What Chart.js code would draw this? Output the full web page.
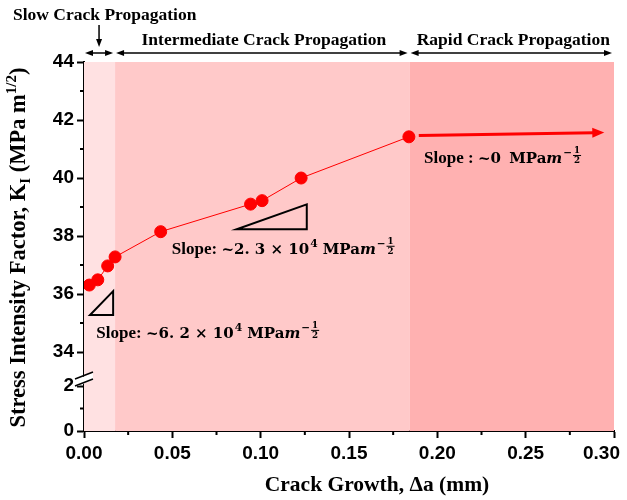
<!DOCTYPE html>
<html>
<head>
<meta charset="utf-8">
<script src="https://cdn.jsdelivr.net/npm/chart.js@4.4.1/dist/chart.umd.min.js"></script>
<style>
  html, body { margin: 0; padding: 0; background: #fff; }
  #wrap { width: 627px; height: 500px; position: relative; }
</style>
</head>
<body>
<div id="wrap"><canvas id="chart"></canvas></div>
<script>
// measured points
const crackGrowth = [0.003, 0.0078, 0.0134, 0.0176, 0.0434, 0.0943, 0.1008, 0.1229, 0.1839];
const stressK = [36.31, 36.49, 36.97, 37.28, 38.15, 39.1, 39.22, 40.0, 41.42];

// propagation regions
const regionEdges = [0, 0.0176, 0.1843, 0.30];
const regionColors = ["#ffe1e2", "#ffc9c9", "#ffb1b1"];
const regionNames = ["Slow Crack Propagation", "Intermediate Crack Propagation", "Rapid Crack Propagation"];

// ticks
const xTicks = [0, 0.05, 0.10, 0.15, 0.20, 0.25, 0.30];
const xMinor = [0.025, 0.075, 0.125, 0.175, 0.225, 0.275];
const yTopTicks = [34, 36, 38, 40, 42, 44];
const yTopMinor = [35, 37, 39, 41, 43];
const yLowTicks = [0, 2];
const yLowMinor = [1];

// slope triangles [x0, x1, yBase, yTop] and labels [x, y, prefix, mantissa]
const slopeTris = [[0.0034, 0.0165, 35.28, 36.1], [0.0864, 0.1261, 38.23, 39.09]];
const slopeLabels = [[0.007, 34.48, "Slope: ", "~6. 2 \u00d7 10"], [0.0497, 37.38, "Slope: ", "~2. 3 \u00d7 10"]];
const flatArrow = [0.1895, 41.47, 0.2945, 41.57];
const flatLabel = [0.1925, 40.51];

const SERIF = "'Liberation Serif', 'Times New Roman', serif";
const MATH = "'DejaVu Serif', serif";
const SANS = "'Liberation Sans', Arial, sans-serif";

function arrowHead(ctx, x, y, dir, len, half) {
  ctx.beginPath();
  ctx.moveTo(x, y);
  ctx.lineTo(x - dir * len, y - half);
  ctx.lineTo(x - dir * len, y + half);
  ctx.closePath();
  ctx.fill();
}

// draws "MPa m^-1/2" starting at x
function unitText(ctx, x, y, size) {
  ctx.font = `bold ${size}px ${MATH}`;
  ctx.fillText("MPa", x, y);
  x += ctx.measureText("MPa").width;
  ctx.font = `italic bold ${size}px ${MATH}`;
  ctx.fillText("m", x, y);
  x += ctx.measureText("m").width + 1;
  ctx.font = `bold ${size * 0.7}px ${MATH}`;
  ctx.fillText("\u2212", x, y - size * 0.45);
  x += ctx.measureText("\u2212").width + 2;
  ctx.font = `bold ${size * 0.58}px ${MATH}`;
  const w = ctx.measureText("2").width;
  ctx.textAlign = "center";
  ctx.fillText("1", x + w / 2, y - size * 0.7);
  ctx.fillText("2", x + w / 2, y - size * 0.02);
  ctx.textAlign = "left";
  ctx.fillRect(x - 1, y - size * 0.55, w + 2, 1);
}

const decorPlugin = {
  id: "decor",
  beforeDatasetsDraw(chart) {
    const { ctx, chartArea: a, scales } = chart;
    const xs = scales.x;
    ctx.save();
    for (let i = 0; i < regionColors.length; i++) {
      const l = xs.getPixelForValue(regionEdges[i]);
      const r = xs.getPixelForValue(regionEdges[i + 1]);
      ctx.fillStyle = regionColors[i];
      ctx.fillRect(l, a.top, r - l, a.bottom - a.top);
    }
    ctx.restore();
  },
  afterDraw(chart) {
    const { ctx, chartArea: a, scales, width } = chart;
    const xs = scales.x, yt = scales.yTop, yl = scales.yLow;
    ctx.save();
    ctx.fillStyle = "#000";
    ctx.strokeStyle = "#000";

    // minor ticks
    ctx.lineWidth = 2;
    ctx.beginPath();
    xMinor.forEach(v => { const p = xs.getPixelForValue(v); ctx.moveTo(p, a.bottom); ctx.lineTo(p, a.bottom + 4); });
    yTopMinor.forEach(v => { const p = yt.getPixelForValue(v); ctx.moveTo(a.left, p); ctx.lineTo(a.left - 4, p); });
    yLowMinor.forEach(v => { const p = yl.getPixelForValue(v); ctx.moveTo(a.left, p); ctx.lineTo(a.left - 4, p); });
    ctx.stroke();

    // x tick labels, kept inside the canvas
    ctx.font = `bold 19px ${SANS}`;
    ctx.textAlign = "center";
    ctx.textBaseline = "middle";
    xTicks.forEach(v => {
      const t = v.toFixed(2);
      const half = ctx.measureText(t).width / 2;
      const p = Math.min(xs.getPixelForValue(v), width - 7 - half);
      ctx.fillText(t, p, a.bottom + 23);
    });

    // axis break
    const by = yl.top;
    ctx.fillStyle = "#fff";
    ctx.beginPath();
    ctx.moveTo(a.left - 9, by + 3); ctx.lineTo(a.left + 9, by - 4);
    ctx.lineTo(a.left + 9, by + 3); ctx.lineTo(a.left - 9, by + 10);
    ctx.closePath();
    ctx.fill();
    ctx.fillStyle = "#000";
    ctx.lineWidth = 1.5;
    ctx.beginPath();
    ctx.moveTo(a.left - 9, by + 2); ctx.lineTo(a.left + 9, by - 5);
    ctx.moveTo(a.left - 9, by + 9); ctx.lineTo(a.left + 9, by + 2);
    ctx.stroke();

    // region labels with double arrows
    ctx.lineWidth = 1.5;
    const ay = a.top - 9;
    ctx.font = `bold 17.5px ${SERIF}`;
    ctx.textBaseline = "middle";
    for (let i = 0; i < regionNames.length; i++) {
      const l = xs.getPixelForValue(regionEdges[i]) + 1;
      const r = xs.getPixelForValue(regionEdges[i + 1]) - 2;
      ctx.beginPath();
      ctx.moveTo(l + 3, ay); ctx.lineTo(r - 3, ay);
      ctx.stroke();
      arrowHead(ctx, l, ay, -1, 8, 3);
      arrowHead(ctx, r, ay, 1, 8, 3);
      if (i === 0) {
        ctx.textAlign = "left";
        ctx.fillText(regionNames[i], 13, 15);
        const mx = (l + r) / 2;
        ctx.beginPath();
        ctx.moveTo(mx, 25); ctx.lineTo(mx, 40);
        ctx.stroke();
        ctx.beginPath();
        ctx.moveTo(mx, 47); ctx.lineTo(mx - 3, 39); ctx.lineTo(mx + 3, 39);
        ctx.closePath(); ctx.fill();
      } else {
        ctx.textAlign = "center";
        ctx.fillText(regionNames[i], (l + r) / 2 + 2, 40);
      }
    }

    // slope triangles
    ctx.lineWidth = 2;
    slopeTris.forEach(t => {
      const x0 = xs.getPixelForValue(t[0]), x1 = xs.getPixelForValue(t[1]);
      const y0 = yt.getPixelForValue(t[2]), y1 = yt.getPixelForValue(t[3]);
      ctx.beginPath();
      ctx.moveTo(x0, y0); ctx.lineTo(x1, y0); ctx.lineTo(x1, y1); ctx.closePath();
      ctx.stroke();
    });

    // slope labels
    ctx.textBaseline = "alphabetic";
    ctx.textAlign = "left";
    const fs = 17;
    const ms = 15;
    slopeLabels.forEach(s => {
      let x = xs.getPixelForValue(s[0]);
      const y = yt.getPixelForValue(s[1]);
      ctx.font = `bold ${fs}px ${SERIF}`;
      ctx.fillText(s[2], x, y);
      x += ctx.measureText(s[2]).width;
      ctx.font = `bold ${ms}px ${MATH}`;
      ctx.fillText(s[3], x, y);
      x += ctx.measureText(s[3]).width;
      ctx.font = `bold ${ms * 0.72}px ${MATH}`;
      ctx.fillText("4", x + 1, y - ms * 0.5);
      x += ctx.measureText("4").width + 6;
      unitText(ctx, x, y, ms);
    });

    // flat arrow (rapid stage)
    ctx.strokeStyle = "#ff0000";
    ctx.fillStyle = "#ff0000";
    ctx.lineWidth = 3;
    const fx0 = xs.getPixelForValue(flatArrow[0]), fy0 = yt.getPixelForValue(flatArrow[1]);
    const fx1 = xs.getPixelForValue(flatArrow[2]), fy1 = yt.getPixelForValue(flatArrow[3]);
    const ang = Math.atan2(fy1 - fy0, fx1 - fx0);
    ctx.beginPath();
    ctx.moveTo(fx0, fy0);
    ctx.lineTo(fx1 - 10 * Math.cos(ang), fy1 - 10 * Math.sin(ang));
    ctx.stroke();
    ctx.save();
    ctx.translate(fx1, fy1); ctx.rotate(ang);
    ctx.beginPath();
    ctx.moveTo(0, 0); ctx.lineTo(-12, -5); ctx.lineTo(-12, 5); ctx.closePath(); ctx.fill();
    ctx.restore();

    ctx.fillStyle = "#000";
    let lx = xs.getPixelForValue(flatLabel[0]);
    const ly = yt.getPixelForValue(flatLabel[1]);
    ctx.font = `bold ${fs}px ${SERIF}`;
    ctx.fillText("Slope : ", lx, ly);
    lx += ctx.measureText("Slope : ").width;
    ctx.font = `bold ${ms}px ${MATH}`;
    ctx.fillText("~0 ", lx, ly);
    lx += ctx.measureText("~0 ").width + 3;
    unitText(ctx, lx, ly, ms);

    // x axis title
    ctx.font = `bold 21.5px ${SERIF}`;
    ctx.textAlign = "center";
    ctx.textBaseline = "middle";
    ctx.fillText("Crack Growth, \u0394a (mm)", 377, 485);

    // y axis title
    ctx.save();
    ctx.translate(18, (a.top + a.bottom) / 2 + 1);
    ctx.rotate(-Math.PI / 2);
    const parts = [
      ["Stress Intensity Factor, K", 22.5, 0],
      ["I", 15, 5],
      [" (MPa m", 22.5, 0],
      ["1/2", 15, -9],
      [")", 22.5, 0],
    ];
    ctx.textAlign = "left";
    ctx.textBaseline = "alphabetic";
    let total = 0;
    parts.forEach(p => { ctx.font = `bold ${p[1]}px ${SERIF}`; total += ctx.measureText(p[0]).width; });
    let px = -total / 2;
    parts.forEach(p => {
      ctx.font = `bold ${p[1]}px ${SERIF}`;
      ctx.fillText(p[0], px, 7 + p[2]);
      px += ctx.measureText(p[0]).width;
    });
    ctx.restore();

    ctx.restore();
  },
};

const tickFont = { family: SANS, size: 19, weight: "bold" };
const axisGrid = { drawOnChartArea: false, tickLength: 7, tickWidth: 2, tickColor: "#000" };
const axisBorder = { color: "#000", width: 2 };

new Chart(document.getElementById("chart"), {
  type: "scatter",
  data: {
    datasets: [{
      data: crackGrowth.map((x, i) => ({ x, y: stressK[i] })),
      yAxisID: "yTop",
      showLine: true,
      borderColor: "#ff0000",
      backgroundColor: "#ff0000",
      borderWidth: 1,
      pointRadius: 6,
      pointHoverRadius: 6,
    }],
  },
  options: {
    responsive: true,
    maintainAspectRatio: false,
    animation: false,
    events: [],
    layout: { autoPadding: false, padding: { left: 40, right: 13, top: 62, bottom: 0 } },
    plugins: { legend: { display: false }, tooltip: { enabled: false } },
    scales: {
      x: {
        type: "linear",
        min: 0,
        max: 0.30,
        afterBuildTicks: s => { s.ticks = xTicks.map(v => ({ value: v })); },
        afterFit: s => { s.height = 69; s.paddingLeft = 0; s.paddingRight = 0; },
        ticks: { display: false },
        grid: axisGrid,
        border: axisBorder,
      },
      yLow: {
        type: "linear",
        position: "left",
        stack: "k",
        stackWeight: 54,
        min: 0,
        max: 2.4,
        afterBuildTicks: s => { s.ticks = yLowTicks.map(v => ({ value: v })); },
        afterFit: s => { s.width = 44; s.paddingTop = 0; s.paddingBottom = 0; },
        ticks: { color: "#000", font: tickFont, padding: 3 },
        grid: axisGrid,
        border: axisBorder,
      },
      yTop: {
        type: "linear",
        position: "left",
        stack: "k",
        stackWeight: 315,
        min: 33.14,
        max: 44,
        afterBuildTicks: s => { s.ticks = yTopTicks.map(v => ({ value: v })); },
        afterFit: s => { s.width = 44; s.paddingTop = 0; s.paddingBottom = 0; },
        ticks: { color: "#000", font: tickFont, padding: 3 },
        grid: axisGrid,
        border: axisBorder,
      },
    },
  },
  plugins: [decorPlugin],
});
</script>
</body>
</html>
